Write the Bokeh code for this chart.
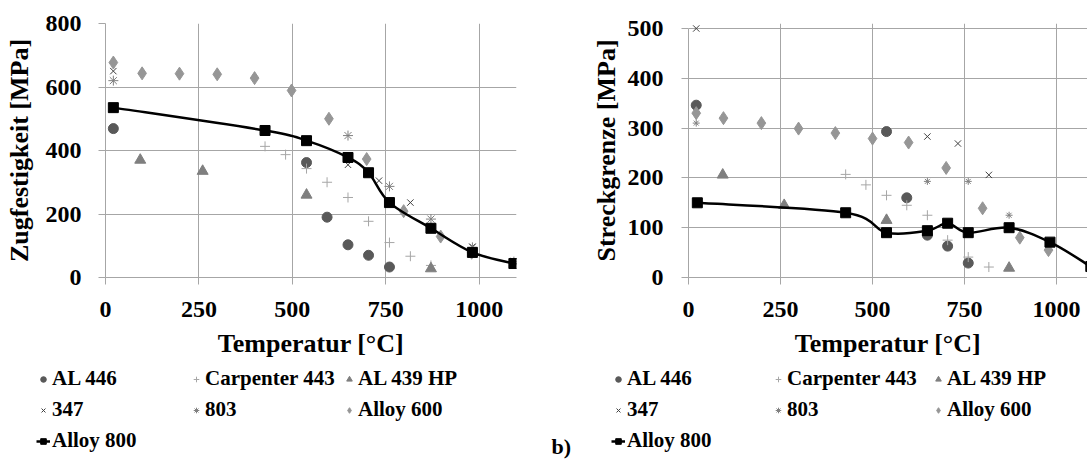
from bokeh.plotting import figure
from bokeh.models import Legend, LegendItem, FixedTicker, Label, Range1d
from bokeh.layouts import row, column
from bokeh.embed import file_html
from bokeh.resources import INLINE
import numpy as np

# ---------------- data: tensile strength (Zugfestigkeit) ----------------
zf_al446_t = [21, 538, 593, 649, 704, 760]
zf_al446_v = [469, 362, 190, 103, 70, 33]
zf_c443_t = [427, 482, 538, 593, 649, 704, 760, 816, 871]
zf_c443_v = [413, 387, 343, 300, 252, 177, 110, 67, 38]
zf_al439_t = [93, 260, 538, 871]
zf_al439_v = [370, 335, 260, 28]
zf_347_t = [21, 649, 732, 816, 982, 1093]
zf_347_v = [650, 355, 305, 236, 97, 52]
zf_803_t = [21, 649, 760, 871, 982, 1093]
zf_803_v = [620, 447, 287, 184, 95, 50]
zf_a600_t = [21, 98, 198, 299, 399, 498, 598, 699, 798, 897, 980]
zf_a600_v = [677, 643, 642, 640, 628, 589, 500, 373, 209, 129, 78]
zf_a800_t = [21, 427, 538, 649, 704, 760, 871, 982, 1093]
zf_a800_v = [535, 463, 431, 378, 330, 236, 155, 79, 44]

# ---------------- data: yield strength (Streckgrenze) ----------------
sg_al446_t = [21, 538, 593, 649, 704, 760]
sg_al446_v = [346, 293, 160, 85, 63, 29]
sg_c443_t = [427, 482, 538, 593, 649, 704, 760, 816]
sg_c443_v = [207, 186, 165, 145, 125, 75, 41, 21]
sg_al439_t = [93, 260, 538, 871]
sg_al439_v = [206, 145, 115, 19]
sg_347_t = [21, 649, 732, 816]
sg_347_v = [500, 283, 269, 206]
sg_803_t = [21, 649, 760, 871]
sg_803_v = [310, 193, 193, 125]
sg_a600_t = [21, 95, 198, 299, 399, 500, 598, 700, 799, 900, 978]
sg_a600_v = [330, 320, 310, 299, 290, 279, 271, 220, 139, 80, 55]
sg_a800_t = [24, 427, 538, 649, 704, 760, 871, 982, 1093]
sg_a800_v = [150, 130, 90, 94, 109, 90, 100, 71, 22]

x_ticks = [0, 250, 500, 750, 1000]
zf_ticks = [0, 200, 400, 600, 800]
sg_ticks = [0, 100, 200, 300, 400, 500]
labels = ["AL 446", "Carpenter 443", "AL 439 HP", "347", "803", "Alloy 600", "Alloy 800"]
panel_tag = "b)"

FONT = "Liberation Serif"
GRID = "#a6a6a6"
NAN = [float("nan")]

STYLES = [
    dict(marker="circle", size=10, fill_color="#595959", line_color="#595959"),
    dict(marker="cross", size=10, line_color="#a6a6a6", line_width=1),
    dict(marker="triangle", size=11, fill_color="#7f7f7f", line_color="#7f7f7f"),
    dict(marker="x", size=9, line_color="#404040", line_width=1),
    dict(marker="asterisk", size=10, line_color="#808080", line_width=1),
    dict(marker="diamond", size=13, fill_color="#969696", line_color="#969696"),
    dict(marker="square", size=10, fill_color="black", line_color="black"),
]


def smooth_bezier(xs, ys):
    xs = np.asarray(xs, float)
    ys = np.asarray(ys, float)
    n = len(xs)
    out = dict(x0=[], y0=[], x1=[], y1=[], cx0=[], cy0=[], cx1=[], cy1=[])
    for i in range(n - 1):
        a = i - 1 if i > 0 else i
        d = i + 2 if i + 2 < n else i + 1
        out["x0"].append(xs[i]); out["y0"].append(ys[i])
        out["x1"].append(xs[i + 1]); out["y1"].append(ys[i + 1])
        out["cx0"].append(xs[i] + (xs[i + 1] - xs[a]) / 6)
        out["cy0"].append(ys[i] + (ys[i + 1] - ys[a]) / 6)
        out["cx1"].append(xs[i + 1] - (xs[d] - xs[i]) / 6)
        out["cy1"].append(ys[i + 1] - (ys[d] - ys[i]) / 6)
    return out


def make_chart(width, xend, yend, ytop, yticks, ylabel, series, border_left, border_right,
               border_top, star_size, ylab_standoff, ytick_standoff):
    p = figure(width=width, height=362, output_backend="svg", toolbar_location=None,
               x_range=Range1d(0, xend), y_range=Range1d(0, ytop),
               min_border_left=border_left, min_border_right=border_right,
               min_border_top=border_top, min_border_bottom=85)
    p.outline_line_color = None
    for ax in (p.xaxis[0], p.yaxis[0]):
        ax.axis_line_color = GRID
        ax.major_tick_line_color = GRID
        ax.major_tick_out = 7
        ax.major_tick_in = 0
        ax.minor_tick_line_color = None
        ax.major_label_text_font = FONT
        ax.major_label_text_font_style = "bold"
        ax.major_label_text_font_size = "24px"
        ax.major_label_text_color = "black"
        ax.axis_label_text_font = FONT
        ax.axis_label_text_font_style = "bold"
        ax.axis_label_text_font_size = "26px"
        ax.axis_label_text_color = "black"
    p.xaxis.ticker = FixedTicker(ticks=x_ticks)
    p.yaxis.ticker = FixedTicker(ticks=yticks)
    p.yaxis.bounds = (0, yend)
    p.xaxis.axis_label = "Temperatur [°C]"
    p.yaxis.axis_label = ylabel
    p.xaxis.major_label_standoff = 17
    p.xaxis.axis_label_standoff = 9
    p.yaxis.major_label_standoff = ytick_standoff
    p.yaxis.axis_label_standoff = ylab_standoff
    p.xgrid.ticker = FixedTicker(ticks=x_ticks)
    p.ygrid.ticker = FixedTicker(ticks=yticks)
    p.xgrid.grid_line_color = GRID
    p.ygrid.grid_line_color = GRID

    for i, (t, v) in enumerate(series):
        st = dict(STYLES[i])
        if st["marker"] == "asterisk":
            st["size"] = star_size
        if i == 6:
            bz = smooth_bezier(t, v)
            p.bezier(x0=bz["x0"], y0=bz["y0"], x1=bz["x1"], y1=bz["y1"],
                     cx0=bz["cx0"], cy0=bz["cy0"], cx1=bz["cx1"], cy1=bz["cy1"],
                     line_color="black", line_width=2.5)
        p.scatter(t, v, **st)
    return p


def add_legend(q, leg_x, star_size, label_w):
    items = []
    for i, lab in enumerate(labels):
        st = dict(STYLES[i])
        if st["marker"] == "asterisk":
            st["size"] = star_size
        rs = []
        if i == 6:
            rs.append(q.line(NAN, NAN, line_color="black", line_width=2.5))
        rs.append(q.scatter(NAN, NAN, **st))
        items.append(LegendItem(label=lab, renderers=rs))
    leg = Legend(items=items, orientation="horizontal", ncols=3, location=(leg_x, 7),
                 label_text_font=FONT, label_text_font_style="bold", label_text_font_size="21px",
                 label_text_color="black", glyph_width=14, glyph_height=14, label_standoff=2,
                 label_width=label_w, label_height=24, spacing=6, padding=0, margin=0,
                 border_line_alpha=0, background_fill_alpha=0)
    q.add_layout(leg, "center")


zf_series = [(zf_al446_t, zf_al446_v), (zf_c443_t, zf_c443_v), (zf_al439_t, zf_al439_v),
             (zf_347_t, zf_347_v), (zf_803_t, zf_803_v), (zf_a600_t, zf_a600_v), (zf_a800_t, zf_a800_v)]
sg_series = [(sg_al446_t, sg_al446_v), (sg_c443_t, sg_c443_v), (sg_al439_t, sg_al439_v),
             (sg_347_t, sg_347_v), (sg_803_t, sg_803_v), (sg_a600_t, sg_a600_v), (sg_a800_t, sg_a800_v)]

p1 = make_chart(545, 1100, 800, 800, zf_ticks, "Zugfestigkeit [MPa]", zf_series,
                105, 29, 23, 10, 9, 17)
p2 = make_chart(542, 1084, 500, 510, sg_ticks, "Streckgrenze [MPa]", sg_series,
                143, 0, 19, 7, 4, 18)

# legend strip below both charts
lq = figure(width=1087, height=98, output_backend="svg", toolbar_location=None,
            x_range=Range1d(0, 1), y_range=Range1d(0, 1),
            x_axis_location=None, y_axis_location=None,
            min_border_left=0, min_border_right=0, min_border_top=0, min_border_bottom=0)
lq.grid.visible = False
lq.outline_line_color = None
add_legend(lq, 36, 10, 131)
add_legend(lq, 611, 7, 138)
lq.add_layout(Label(x=551, y=2, x_units="screen", y_units="screen", text=panel_tag,
                    text_font=FONT, text_font_style="bold", text_font_size="22px",
                    text_color="black"))

layout = column(row(p1, p2), lq)
open("out.html", "w").write(file_html(layout, INLINE))
